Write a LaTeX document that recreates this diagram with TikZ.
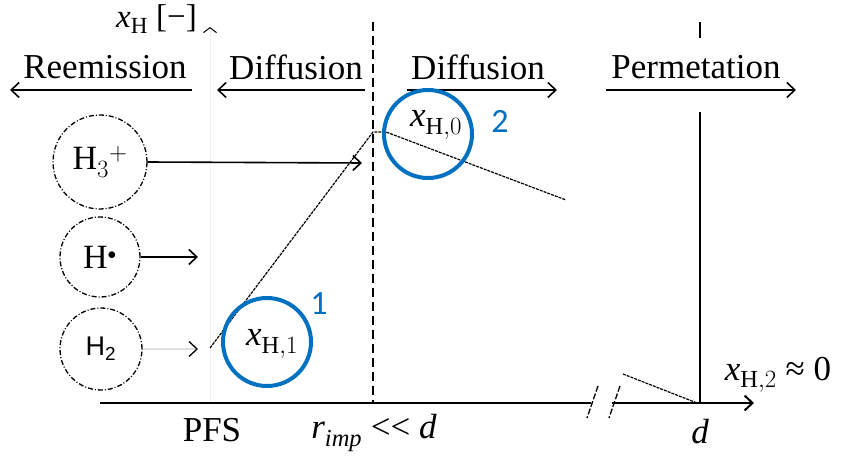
\documentclass[tikz,border=0pt]{standalone}
\usepackage{fontspec}
\setmainfont{Liberation Serif}
\setsansfont{Liberation Sans}
\newfontfamily\numfont{Carlito}
\usetikzlibrary{arrows.meta}
\definecolor{annblue}{RGB}{0,112,192}
\begin{document}
\begin{tikzpicture}[x=1pt,y=-1pt,
  lbl/.style={font=\fontsize{35}{42}\selectfont, inner sep=0pt},
  tip/.style={-{Straight Barb[length=8pt,width=15pt]}},
  flow/.style={line width=1.6pt, tip},
  axisl/.style={line width=2pt},
  profl/.style={line width=1.2pt, dash pattern=on 3pt off 1pt},
  molc/.style={circle, draw, line width=1.3pt, dash pattern=on 5pt off 2pt on 1pt off 2pt, inner sep=0pt, font=\fontsize{34}{40}\selectfont},
  bluecirc/.style={circle, draw=annblue, line width=4pt, inner sep=0pt},
  numl/.style={font=\numfont\fontsize{34}{40}\selectfont, text=annblue, inner sep=0pt}
]
\useasboundingbox (0,0) rectangle (841,457);
\fill[white] (0,0) rectangle (841,457);

% faint ordinate
\coordinate (ya) at (210,403);
\coordinate (yb) at (210,27);
\draw[line width=1pt, draw=black!6, -{Straight Barb[length=5pt,width=13pt,color=black]}] (ya) -- (yb);
\node[font=\fontsize{33}{38}\selectfont, inner sep=0pt, anchor=east] (xhl) at (197,19) {$\mathit{x}_{\mathrm{H}}$ [−]};

% headers
\node[lbl] (ree) at (105,67) {Reemission};
\node[lbl] (dl) at (296,67) {Diffusion};
\node[lbl] (dr) at (478,67) {Diffusion};
\node[lbl] (perm) at (696,67) {Permetation};

\coordinate (reeA) at (192,90); \coordinate (reeB) at (10,90);
\coordinate (dlA) at (365,90); \coordinate (dlB) at (217,90);
\coordinate (drA) at (407,90); \coordinate (drB) at (557,90);
\coordinate (pmA) at (606,90); \coordinate (pmB) at (796,90);
\draw[flow] (reeA) -- (reeB);
\draw[flow] (dlA) -- (dlB);
\draw[flow] (drA) -- (drB);
\draw[flow] (pmA) -- (pmB);

% interface lines
\coordinate (dt) at (373,22); \coordinate (db) at (373,403);
\draw[line width=1.6pt, dash pattern=on 9pt off 5pt] (dt) -- (db);
\coordinate (st1) at (700,22); \coordinate (st2) at (700,38);
\coordinate (sm1) at (700,112); \coordinate (sm2) at (700,403);
\draw[line width=1.6pt] (st1) -- (st2);
\draw[line width=1.6pt] (sm1) -- (sm2);

% axis
\coordinate (ax0) at (100,403); \coordinate (axb1) at (591,403);
\coordinate (axb2) at (612,403); \coordinate (axe) at (754,403);
\draw[axisl] (ax0) -- (axb1);
\draw[axisl, tip] (axb2) -- (axe);
\coordinate (k1a) at (598,386); \coordinate (k1b) at (587,418);
\coordinate (k2a) at (620,386); \coordinate (k2b) at (609,418);
\draw[line width=1.3pt, dash pattern=on 6pt off 2pt] (k1a) -- (k1b);
\draw[line width=1.3pt, dash pattern=on 6pt off 2pt] (k2a) -- (k2b);

% molecules
\node[molc, minimum size=94pt] (h3) at (100,162) {H$_3{}^{+}$};
\node[molc, minimum size=80pt] (hd) at (100,257) {H$^{\scriptscriptstyle\bullet}$};
\node[molc, minimum size=82pt, font=\sffamily\fontsize{27}{32}\selectfont] (h2) at (101,349) {H\textsubscript{2}};
\coordinate (h3t) at (362,163);
\coordinate (hdt) at (198,257);
\coordinate (h2t) at (198,349);
\draw[flow] (h3.east) -- (h3t);
\draw[flow] (hd.east) -- (hdt);
\draw[line width=1.3pt, draw=black!12, -{Straight Barb[length=8pt,width=15pt,color=black]}] (h2.east) -- (h2t);

% profile
\coordinate (p1) at (210,348);
\coordinate (p0) at (373,132);
\coordinate (p0b) at (386,132);
\coordinate (pe) at (566,200);
\coordinate (q1) at (623,374);
\coordinate (q2) at (697,403);
\draw[profl] (p1) -- (p0) -- (p0b) -- (pe);
\draw[profl] (q1) -- (q2);

% labels
\node[lbl] (x0) at (436,125) {$\mathit{x}_{\mathrm{H},0}$};
\node[lbl] (x1) at (272,344) {$\mathit{x}_{\mathrm{H},1}$};
\node[lbl] (x2) at (778,375) {$\mathit{x}_{\mathrm{H},2}$ ≈ 0};
\node[lbl] (pfs) at (212,430) {PFS};
\node[lbl] (rimp) at (374,433) {$\mathit{r}_{\mathit{imp}}$ {<}{<} $\mathit{d}$};
\node[lbl] (dd) at (700,432) {$\mathit{d}$};

% annotations
\node[bluecirc, minimum size=88pt] (c2) at (428,134) {};
\node[numl] (n2) at (500,121) {2};
\node[bluecirc, minimum size=88pt] (c1) at (267,342) {};
\node[numl] (n1) at (319,304) {1};
\end{tikzpicture}
\end{document}
